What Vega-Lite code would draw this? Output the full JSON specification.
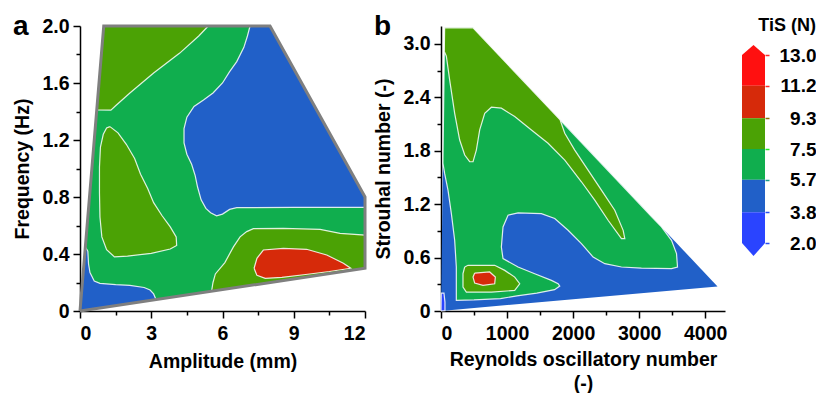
{
  "$schema": "https://vega.github.io/schema/vega-lite/v6.json",
  "padding": {"left": 12, "top": 13, "right": 2, "bottom": 0},
  "autosize": {"type": "pad"},
  "config": {
    "view": {"stroke": null},
    "font": "Liberation Sans",
    "axis": {"grid": false, "zindex": 1, "domainColor": "black", "domainWidth": 1.5, "tickColor": "black", "tickWidth": 1.5, "labelColor": "black", "titleColor": "black", "labelFontSize": 19.5, "titleFontSize": 19.5, "labelFontWeight": "bold", "titleFontWeight": "bold", "labelPadding": 4, "labelFont": "Liberation Sans", "titleFont": "Liberation Sans"},
    "axisX": {"labelPadding": 6, "titlePadding": 8},
    "title": {"font": "Liberation Sans", "fontWeight": "bold", "color": "black"}
  },
  "datasets": {
    "polyA": [
      {"poly":"dom","level":"5.7-7.5","i":0,"x":0,"y":0},
      {"poly":"dom","level":"5.7-7.5","i":1,"x":1,"y":2},
      {"poly":"dom","level":"5.7-7.5","i":2,"x":8,"y":2},
      {"poly":"dom","level":"5.7-7.5","i":3,"x":12,"y":0.8},
      {"poly":"dom","level":"5.7-7.5","i":4,"x":12,"y":0.3},
      {"poly":"dom","level":"5.7-7.5","i":5,"x":0,"y":0},

      {"poly":"bTR","level":"3.8-5.7","i":0,"x":7.16,"y":2},
      {"poly":"bTR","level":"3.8-5.7","i":1,"x":8,"y":2},
      {"poly":"bTR","level":"3.8-5.7","i":2,"x":12,"y":0.8},
      {"poly":"bTR","level":"3.8-5.7","i":3,"x":12,"y":0.727},
      {"poly":"bTR","level":"3.8-5.7","i":4,"x":9,"y":0.727},
      {"poly":"bTR","level":"3.8-5.7","i":5,"x":6.6,"y":0.725},
      {"poly":"bTR","level":"3.8-5.7","i":6,"x":6.3,"y":0.713},
      {"poly":"bTR","level":"3.8-5.7","i":7,"x":6.0,"y":0.68},
      {"poly":"bTR","level":"3.8-5.7","i":8,"x":5.75,"y":0.668},
      {"poly":"bTR","level":"3.8-5.7","i":9,"x":5.5,"y":0.69},
      {"poly":"bTR","level":"3.8-5.7","i":10,"x":5.3,"y":0.72},
      {"poly":"bTR","level":"3.8-5.7","i":11,"x":5.1,"y":0.78},
      {"poly":"bTR","level":"3.8-5.7","i":12,"x":4.95,"y":0.87},
      {"poly":"bTR","level":"3.8-5.7","i":13,"x":4.85,"y":0.95},
      {"poly":"bTR","level":"3.8-5.7","i":14,"x":4.7,"y":1.03},
      {"poly":"bTR","level":"3.8-5.7","i":15,"x":4.5,"y":1.1},
      {"poly":"bTR","level":"3.8-5.7","i":16,"x":4.38,"y":1.18},
      {"poly":"bTR","level":"3.8-5.7","i":17,"x":4.38,"y":1.28},
      {"poly":"bTR","level":"3.8-5.7","i":18,"x":4.5,"y":1.36},
      {"poly":"bTR","level":"3.8-5.7","i":19,"x":4.8,"y":1.435},
      {"poly":"bTR","level":"3.8-5.7","i":20,"x":5.2,"y":1.48},
      {"poly":"bTR","level":"3.8-5.7","i":21,"x":5.6,"y":1.53},
      {"poly":"bTR","level":"3.8-5.7","i":22,"x":6.0,"y":1.6},
      {"poly":"bTR","level":"3.8-5.7","i":23,"x":6.3,"y":1.68},
      {"poly":"bTR","level":"3.8-5.7","i":24,"x":6.6,"y":1.75},
      {"poly":"bTR","level":"3.8-5.7","i":25,"x":6.9,"y":1.85},
      {"poly":"bTR","level":"3.8-5.7","i":26,"x":7.05,"y":1.93},
      {"poly":"bTR","level":"3.8-5.7","i":27,"x":7.16,"y":2},

      {"poly":"bBL","level":"3.8-5.7","i":0,"x":0,"y":0},
      {"poly":"bBL","level":"3.8-5.7","i":1,"x":0.225,"y":0.45},
      {"poly":"bBL","level":"3.8-5.7","i":2,"x":0.33,"y":0.42},
      {"poly":"bBL","level":"3.8-5.7","i":3,"x":0.36,"y":0.33},
      {"poly":"bBL","level":"3.8-5.7","i":4,"x":0.42,"y":0.27},
      {"poly":"bBL","level":"3.8-5.7","i":5,"x":0.6,"y":0.21},
      {"poly":"bBL","level":"3.8-5.7","i":6,"x":0.84,"y":0.194},
      {"poly":"bBL","level":"3.8-5.7","i":7,"x":1.5,"y":0.185},
      {"poly":"bBL","level":"3.8-5.7","i":8,"x":2.1,"y":0.18},
      {"poly":"bBL","level":"3.8-5.7","i":9,"x":2.7,"y":0.165},
      {"poly":"bBL","level":"3.8-5.7","i":10,"x":2.95,"y":0.147},
      {"poly":"bBL","level":"3.8-5.7","i":11,"x":3.1,"y":0.12},
      {"poly":"bBL","level":"3.8-5.7","i":12,"x":3.2,"y":0.08},
      {"poly":"bBL","level":"3.8-5.7","i":13,"x":0,"y":0},

      {"poly":"oTL","level":"7.5-9.3","i":0,"x":1,"y":2},
      {"poly":"oTL","level":"7.5-9.3","i":1,"x":5.4,"y":2},
      {"poly":"oTL","level":"7.5-9.3","i":2,"x":5.0,"y":1.93},
      {"poly":"oTL","level":"7.5-9.3","i":3,"x":4.2,"y":1.81},
      {"poly":"oTL","level":"7.5-9.3","i":4,"x":3.1,"y":1.67},
      {"poly":"oTL","level":"7.5-9.3","i":5,"x":2.1,"y":1.53},
      {"poly":"oTL","level":"7.5-9.3","i":6,"x":1.5,"y":1.44},
      {"poly":"oTL","level":"7.5-9.3","i":7,"x":1.3,"y":1.41},
      {"poly":"oTL","level":"7.5-9.3","i":8,"x":0.706,"y":1.411},
      {"poly":"oTL","level":"7.5-9.3","i":9,"x":1,"y":2},

      {"poly":"oL","level":"7.5-9.3","i":0,"x":1.26,"y":1.294},
      {"poly":"oL","level":"7.5-9.3","i":1,"x":1.6,"y":1.25},
      {"poly":"oL","level":"7.5-9.3","i":2,"x":1.95,"y":1.17},
      {"poly":"oL","level":"7.5-9.3","i":3,"x":2.3,"y":1.07},
      {"poly":"oL","level":"7.5-9.3","i":4,"x":2.55,"y":0.96},
      {"poly":"oL","level":"7.5-9.3","i":5,"x":2.85,"y":0.86},
      {"poly":"oL","level":"7.5-9.3","i":6,"x":3.1,"y":0.76},
      {"poly":"oL","level":"7.5-9.3","i":7,"x":3.45,"y":0.67},
      {"poly":"oL","level":"7.5-9.3","i":8,"x":3.8,"y":0.59},
      {"poly":"oL","level":"7.5-9.3","i":9,"x":4.05,"y":0.52},
      {"poly":"oL","level":"7.5-9.3","i":10,"x":4.07,"y":0.46},
      {"poly":"oL","level":"7.5-9.3","i":11,"x":3.8,"y":0.435},
      {"poly":"oL","level":"7.5-9.3","i":12,"x":3.0,"y":0.405},
      {"poly":"oL","level":"7.5-9.3","i":13,"x":2.0,"y":0.385},
      {"poly":"oL","level":"7.5-9.3","i":14,"x":1.45,"y":0.38},
      {"poly":"oL","level":"7.5-9.3","i":15,"x":1.12,"y":0.43},
      {"poly":"oL","level":"7.5-9.3","i":16,"x":0.92,"y":0.52},
      {"poly":"oL","level":"7.5-9.3","i":17,"x":0.84,"y":0.66},
      {"poly":"oL","level":"7.5-9.3","i":18,"x":0.82,"y":0.83},
      {"poly":"oL","level":"7.5-9.3","i":19,"x":0.82,"y":1.01},
      {"poly":"oL","level":"7.5-9.3","i":20,"x":0.86,"y":1.15},
      {"poly":"oL","level":"7.5-9.3","i":21,"x":0.98,"y":1.24},
      {"poly":"oL","level":"7.5-9.3","i":22,"x":1.12,"y":1.285},
      {"poly":"oL","level":"7.5-9.3","i":23,"x":1.26,"y":1.294},

      {"poly":"oBR","level":"7.5-9.3","i":0,"x":5.54,"y":0.1385},
      {"poly":"oBR","level":"7.5-9.3","i":1,"x":5.6,"y":0.2},
      {"poly":"oBR","level":"7.5-9.3","i":2,"x":5.7,"y":0.26},
      {"poly":"oBR","level":"7.5-9.3","i":3,"x":6.1,"y":0.34},
      {"poly":"oBR","level":"7.5-9.3","i":4,"x":6.46,"y":0.45},
      {"poly":"oBR","level":"7.5-9.3","i":5,"x":6.74,"y":0.52},
      {"poly":"oBR","level":"7.5-9.3","i":6,"x":7.02,"y":0.557},
      {"poly":"oBR","level":"7.5-9.3","i":7,"x":7.3,"y":0.578},
      {"poly":"oBR","level":"7.5-9.3","i":8,"x":8.56,"y":0.58},
      {"poly":"oBR","level":"7.5-9.3","i":9,"x":10.11,"y":0.573},
      {"poly":"oBR","level":"7.5-9.3","i":10,"x":10.95,"y":0.545},
      {"poly":"oBR","level":"7.5-9.3","i":11,"x":12,"y":0.533},
      {"poly":"oBR","level":"7.5-9.3","i":12,"x":12,"y":0.3},
      {"poly":"oBR","level":"7.5-9.3","i":13,"x":5.54,"y":0.1385},

      {"poly":"rBR","level":"9.3-11.2","i":0,"x":7.33,"y":0.3},
      {"poly":"rBR","level":"9.3-11.2","i":1,"x":7.45,"y":0.37},
      {"poly":"rBR","level":"9.3-11.2","i":2,"x":7.72,"y":0.428},
      {"poly":"rBR","level":"9.3-11.2","i":3,"x":8.56,"y":0.44},
      {"poly":"rBR","level":"9.3-11.2","i":4,"x":9.54,"y":0.433},
      {"poly":"rBR","level":"9.3-11.2","i":5,"x":10.39,"y":0.393},
      {"poly":"rBR","level":"9.3-11.2","i":6,"x":11.09,"y":0.335},
      {"poly":"rBR","level":"9.3-11.2","i":7,"x":11.4,"y":0.3},
      {"poly":"rBR","level":"9.3-11.2","i":8,"x":10.5,"y":0.277},
      {"poly":"rBR","level":"9.3-11.2","i":9,"x":9.5,"y":0.256},
      {"poly":"rBR","level":"9.3-11.2","i":10,"x":8.5,"y":0.236},
      {"poly":"rBR","level":"9.3-11.2","i":11,"x":7.8,"y":0.229},
      {"poly":"rBR","level":"9.3-11.2","i":12,"x":7.45,"y":0.25},
      {"poly":"rBR","level":"9.3-11.2","i":13,"x":7.33,"y":0.3}
    ],
    "polyB": [
      {"poly":"dom","level":"3.8-5.7","i":0,"x":0,"y":0},
      {"poly":"dom","level":"3.8-5.7","i":1,"x":55,"y":3.18},
      {"poly":"dom","level":"3.8-5.7","i":2,"x":485,"y":3.18},
      {"poly":"dom","level":"3.8-5.7","i":3,"x":4187,"y":0.276},
      {"poly":"dom","level":"3.8-5.7","i":4,"x":0,"y":0},

      {"poly":"g","level":"5.7-7.5","i":0,"x":29,"y":1.66},
      {"poly":"g","level":"5.7-7.5","i":1,"x":55,"y":3.18},
      {"poly":"g","level":"5.7-7.5","i":2,"x":485,"y":3.18},
      {"poly":"g","level":"5.7-7.5","i":3,"x":3191,"y":1.057},
      {"poly":"g","level":"5.7-7.5","i":4,"x":3338,"y":0.944},
      {"poly":"g","level":"5.7-7.5","i":5,"x":3490,"y":0.794},
      {"poly":"g","level":"5.7-7.5","i":6,"x":3566,"y":0.644},
      {"poly":"g","level":"5.7-7.5","i":7,"x":3581,"y":0.494},
      {"poly":"g","level":"5.7-7.5","i":8,"x":3490,"y":0.475},
      {"poly":"g","level":"5.7-7.5","i":9,"x":3035,"y":0.482},
      {"poly":"g","level":"5.7-7.5","i":10,"x":2732,"y":0.494},
      {"poly":"g","level":"5.7-7.5","i":11,"x":2480,"y":0.531},
      {"poly":"g","level":"5.7-7.5","i":12,"x":2303,"y":0.606},
      {"poly":"g","level":"5.7-7.5","i":13,"x":2126,"y":0.756},
      {"poly":"g","level":"5.7-7.5","i":14,"x":1924,"y":0.906},
      {"poly":"g","level":"5.7-7.5","i":15,"x":1722,"y":1.038},
      {"poly":"g","level":"5.7-7.5","i":16,"x":1520,"y":1.094},
      {"poly":"g","level":"5.7-7.5","i":17,"x":1167,"y":1.102},
      {"poly":"g","level":"5.7-7.5","i":18,"x":1015,"y":1.076},
      {"poly":"g","level":"5.7-7.5","i":19,"x":939,"y":0.944},
      {"poly":"g","level":"5.7-7.5","i":20,"x":914,"y":0.719},
      {"poly":"g","level":"5.7-7.5","i":21,"x":939,"y":0.588},
      {"poly":"g","level":"5.7-7.5","i":22,"x":1167,"y":0.494},
      {"poly":"g","level":"5.7-7.5","i":23,"x":1419,"y":0.419},
      {"poly":"g","level":"5.7-7.5","i":24,"x":1672,"y":0.344},
      {"poly":"g","level":"5.7-7.5","i":25,"x":1773,"y":0.306},
      {"poly":"g","level":"5.7-7.5","i":26,"x":1798,"y":0.28},
      {"poly":"g","level":"5.7-7.5","i":27,"x":1720,"y":0.24},
      {"poly":"g","level":"5.7-7.5","i":28,"x":1450,"y":0.2},
      {"poly":"g","level":"5.7-7.5","i":29,"x":1150,"y":0.17},
      {"poly":"g","level":"5.7-7.5","i":30,"x":900,"y":0.14},
      {"poly":"g","level":"5.7-7.5","i":31,"x":500,"y":0.125},
      {"poly":"g","level":"5.7-7.5","i":32,"x":232,"y":0.12},
      {"poly":"g","level":"5.7-7.5","i":33,"x":232,"y":0.494},
      {"poly":"g","level":"5.7-7.5","i":34,"x":207,"y":0.794},
      {"poly":"g","level":"5.7-7.5","i":35,"x":157,"y":1.094},
      {"poly":"g","level":"5.7-7.5","i":36,"x":106,"y":1.357},
      {"poly":"g","level":"5.7-7.5","i":37,"x":55,"y":1.545},
      {"poly":"g","level":"5.7-7.5","i":38,"x":29,"y":1.66},

      {"poly":"o1","level":"7.5-9.3","i":0,"x":50,"y":2.915},
      {"poly":"o1","level":"7.5-9.3","i":1,"x":55,"y":3.18},
      {"poly":"o1","level":"7.5-9.3","i":2,"x":485,"y":3.18},
      {"poly":"o1","level":"7.5-9.3","i":3,"x":1804,"y":2.145},
      {"poly":"o1","level":"7.5-9.3","i":4,"x":1874,"y":1.995},
      {"poly":"o1","level":"7.5-9.3","i":5,"x":2025,"y":1.807},
      {"poly":"o1","level":"7.5-9.3","i":6,"x":2227,"y":1.582},
      {"poly":"o1","level":"7.5-9.3","i":7,"x":2429,"y":1.357},
      {"poly":"o1","level":"7.5-9.3","i":8,"x":2631,"y":1.132},
      {"poly":"o1","level":"7.5-9.3","i":9,"x":2758,"y":0.906},
      {"poly":"o1","level":"7.5-9.3","i":10,"x":2783,"y":0.813},
      {"poly":"o1","level":"7.5-9.3","i":11,"x":2732,"y":0.813},
      {"poly":"o1","level":"7.5-9.3","i":12,"x":2530,"y":1.019},
      {"poly":"o1","level":"7.5-9.3","i":13,"x":2328,"y":1.245},
      {"poly":"o1","level":"7.5-9.3","i":14,"x":2126,"y":1.451},
      {"poly":"o1","level":"7.5-9.3","i":15,"x":1874,"y":1.695},
      {"poly":"o1","level":"7.5-9.3","i":16,"x":1621,"y":1.883},
      {"poly":"o1","level":"7.5-9.3","i":17,"x":1369,"y":2.033},
      {"poly":"o1","level":"7.5-9.3","i":18,"x":1116,"y":2.183},
      {"poly":"o1","level":"7.5-9.3","i":19,"x":914,"y":2.277},
      {"poly":"o1","level":"7.5-9.3","i":20,"x":763,"y":2.288},
      {"poly":"o1","level":"7.5-9.3","i":21,"x":662,"y":2.22},
      {"poly":"o1","level":"7.5-9.3","i":22,"x":586,"y":2.033},
      {"poly":"o1","level":"7.5-9.3","i":23,"x":535,"y":1.807},
      {"poly":"o1","level":"7.5-9.3","i":24,"x":485,"y":1.676},
      {"poly":"o1","level":"7.5-9.3","i":25,"x":434,"y":1.676},
      {"poly":"o1","level":"7.5-9.3","i":26,"x":359,"y":1.751},
      {"poly":"o1","level":"7.5-9.3","i":27,"x":283,"y":1.92},
      {"poly":"o1","level":"7.5-9.3","i":28,"x":207,"y":2.22},
      {"poly":"o1","level":"7.5-9.3","i":29,"x":131,"y":2.596},
      {"poly":"o1","level":"7.5-9.3","i":30,"x":81,"y":2.86},
      {"poly":"o1","level":"7.5-9.3","i":31,"x":50,"y":2.915},

      {"poly":"o2","level":"7.5-9.3","i":0,"x":359,"y":0.494},
      {"poly":"o2","level":"7.5-9.3","i":1,"x":409,"y":0.513},
      {"poly":"o2","level":"7.5-9.3","i":2,"x":813,"y":0.513},
      {"poly":"o2","level":"7.5-9.3","i":3,"x":965,"y":0.456},
      {"poly":"o2","level":"7.5-9.3","i":4,"x":1116,"y":0.381},
      {"poly":"o2","level":"7.5-9.3","i":5,"x":1192,"y":0.306},
      {"poly":"o2","level":"7.5-9.3","i":6,"x":1116,"y":0.231},
      {"poly":"o2","level":"7.5-9.3","i":7,"x":763,"y":0.212},
      {"poly":"o2","level":"7.5-9.3","i":8,"x":384,"y":0.212},
      {"poly":"o2","level":"7.5-9.3","i":9,"x":333,"y":0.268},
      {"poly":"o2","level":"7.5-9.3","i":10,"x":333,"y":0.419},
      {"poly":"o2","level":"7.5-9.3","i":11,"x":359,"y":0.494},

      {"poly":"r","level":"9.3-11.2","i":0,"x":510,"y":0.426},
      {"poly":"r","level":"9.3-11.2","i":1,"x":737,"y":0.438},
      {"poly":"r","level":"9.3-11.2","i":2,"x":823,"y":0.381},
      {"poly":"r","level":"9.3-11.2","i":3,"x":813,"y":0.306},
      {"poly":"r","level":"9.3-11.2","i":4,"x":636,"y":0.287},
      {"poly":"r","level":"9.3-11.2","i":5,"x":510,"y":0.313},
      {"poly":"r","level":"9.3-11.2","i":6,"x":485,"y":0.381},
      {"poly":"r","level":"9.3-11.2","i":7,"x":510,"y":0.426},

      {"poly":"bb","level":"2.0-3.8","i":0,"x":0,"y":0},
      {"poly":"bb","level":"2.0-3.8","i":1,"x":4,"y":0.2},
      {"poly":"bb","level":"2.0-3.8","i":2,"x":45,"y":0.2},
      {"poly":"bb","level":"2.0-3.8","i":3,"x":60,"y":0.1},
      {"poly":"bb","level":"2.0-3.8","i":4,"x":60,"y":0.004},
      {"poly":"bb","level":"2.0-3.8","i":5,"x":0,"y":0}
    ],
    "bands": [
      {"lo":11.2,"hi":13.0,"level":"11.2-13.0"},
      {"lo":9.3,"hi":11.2,"level":"9.3-11.2"},
      {"lo":7.5,"hi":9.3,"level":"7.5-9.3"},
      {"lo":5.7,"hi":7.5,"level":"5.7-7.5"},
      {"lo":3.8,"hi":5.7,"level":"3.8-5.7"},
      {"lo":2.0,"hi":3.8,"level":"2.0-3.8"}
    ],
    "arrows": [
      {"poly":"up","level":"11.2-13.0","i":0,"bx":0,"v":13.0},
      {"poly":"up","level":"11.2-13.0","i":1,"bx":0.5,"v":13.585},
      {"poly":"up","level":"11.2-13.0","i":2,"bx":1,"v":13.0},
      {"poly":"dn","level":"2.0-3.8","i":0,"bx":0,"v":2.0},
      {"poly":"dn","level":"2.0-3.8","i":1,"bx":0.5,"v":1.24},
      {"poly":"dn","level":"2.0-3.8","i":2,"bx":1,"v":2.0}
    ]
  },
  "spacing": 2,
  "hconcat": [
    {
      "width": 285,
      "height": 285,
      "title": {"text": "a", "anchor": "start", "frame": "bounds", "fontSize": 28, "offset": -47, "baseline": "alphabetic"},
      "data": {"name": "polyA"},
      "encoding": {
        "x": {"field": "x", "type": "quantitative", "scale": {"domain": [0, 12], "nice": false, "zero": false},
          "axis": {"title": "Amplitude (mm)", "titlePadding": 10, "values": [0, 1.5, 3, 4.5, 6, 7.5, 9, 10.5, 12], "labelExpr": "datum.value % 3 == 0 ? datum.label : ''", "tickSize": {"condition": {"test": "datum.value % 3 == 0", "value": 7}, "value": 4}}},
        "y": {"field": "y", "type": "quantitative", "scale": {"domain": [0, 2], "nice": false, "zero": false},
          "axis": {"title": "Frequency (Hz)", "values": [0, 0.2, 0.4, 0.6, 0.8, 1, 1.2, 1.4, 1.6, 1.8, 2], "format": ".1f", "labelExpr": "datum.value == 0 ? '0' : (round(datum.value * 10) % 4 == 0 ? datum.label : '')", "tickSize": {"condition": {"test": "round(datum.value * 10) % 4 == 0", "value": 7}, "value": 4}, "titlePadding": 9}},
        "order": {"field": "i", "type": "quantitative"},
        "detail": {"field": "poly", "type": "nominal"}
      },
      "layer": [
        {"transform": [{"filter": "datum.poly == 'dom'"}], "mark": {"type": "line", "filled": true, "strokeWidth": 0},
          "encoding": {"color": {"field": "level", "type": "nominal", "legend": null, "scale": {"domain": ["2.0-3.8", "3.8-5.7", "5.7-7.5", "7.5-9.3", "9.3-11.2", "11.2-13.0"], "range": ["#2a44ff", "#2160c8", "#10ae4e", "#4ba205", "#d62a0a", "#ff1010"]}}}},
        {"transform": [{"filter": "datum.poly != 'dom' && datum.level != '9.3-11.2'"}], "mark": {"type": "line", "filled": true, "stroke": "white", "strokeWidth": 1.2, "strokeOpacity": 0.85},
          "encoding": {"color": {"field": "level", "type": "nominal", "legend": null, "scale": {"domain": ["2.0-3.8", "3.8-5.7", "5.7-7.5", "7.5-9.3", "9.3-11.2", "11.2-13.0"], "range": ["#2a44ff", "#2160c8", "#10ae4e", "#4ba205", "#d62a0a", "#ff1010"]}}}},
        {"transform": [{"filter": "datum.level == '9.3-11.2'"}], "mark": {"type": "line", "filled": true, "stroke": "white", "strokeWidth": 1.2, "strokeOpacity": 0.85},
          "encoding": {"color": {"field": "level", "type": "nominal", "legend": null, "scale": {"domain": ["2.0-3.8", "3.8-5.7", "5.7-7.5", "7.5-9.3", "9.3-11.2", "11.2-13.0"], "range": ["#2a44ff", "#2160c8", "#10ae4e", "#4ba205", "#d62a0a", "#ff1010"]}}}},
        {"transform": [{"filter": "datum.poly == 'dom'"}], "mark": {"type": "line", "color": "#7f7f7f", "strokeWidth": 3, "strokeJoin": "miter"}}
      ]
    },
    {
      "spacing": 15,
      "hconcat": [
        {
          "width": 284,
          "height": 285,
          "title": {"text": "b", "anchor": "start", "frame": "bounds", "fontSize": 28, "offset": -38, "baseline": "alphabetic"},
          "data": {"name": "polyB"},
          "encoding": {
            "x": {"field": "x", "type": "quantitative", "scale": {"domain": [0, 4300], "nice": false, "zero": false},
              "axis": {"title": ["Reynolds oscillatory number", "(-)"], "titleLineHeight": 24, "format": "d", "values": [0, 500, 1000, 1500, 2000, 2500, 3000, 3500, 4000], "labelExpr": "datum.value % 1000 == 0 ? datum.label : ''", "tickSize": {"condition": {"test": "datum.value % 1000 == 0", "value": 7}, "value": 4}}},
            "y": {"field": "y", "type": "quantitative", "scale": {"domain": [0, 3.2], "nice": false, "zero": false},
              "axis": {"title": "Strouhal number (-)", "values": [0, 0.3, 0.6, 0.9, 1.2, 1.5, 1.8, 2.1, 2.4, 2.7, 3.0], "format": ".1f", "labelExpr": "datum.value == 0 ? '0' : (round(datum.value * 10) % 6 == 0 ? datum.label : '')", "tickSize": {"condition": {"test": "round(datum.value * 10) % 6 == 0", "value": 7}, "value": 4}, "titlePadding": 9}},
            "order": {"field": "i", "type": "quantitative"},
            "detail": {"field": "poly", "type": "nominal"}
          },
          "layer": [
            {"transform": [{"filter": "datum.poly == 'dom'"}], "mark": {"type": "line", "filled": true, "strokeWidth": 0},
              "encoding": {"color": {"field": "level", "type": "nominal", "legend": null, "scale": {"domain": ["2.0-3.8", "3.8-5.7", "5.7-7.5", "7.5-9.3", "9.3-11.2", "11.2-13.0"], "range": ["#2a44ff", "#2160c8", "#10ae4e", "#4ba205", "#d62a0a", "#ff1010"]}}}},
            {"transform": [{"filter": "datum.poly != 'dom' && datum.level == '5.7-7.5'"}], "mark": {"type": "line", "filled": true, "stroke": "white", "strokeWidth": 1.2, "strokeOpacity": 0.85},
              "encoding": {"color": {"field": "level", "type": "nominal", "legend": null, "scale": {"domain": ["2.0-3.8", "3.8-5.7", "5.7-7.5", "7.5-9.3", "9.3-11.2", "11.2-13.0"], "range": ["#2a44ff", "#2160c8", "#10ae4e", "#4ba205", "#d62a0a", "#ff1010"]}}}},
            {"transform": [{"filter": "datum.level == '7.5-9.3'"}], "mark": {"type": "line", "filled": true, "stroke": "white", "strokeWidth": 1.2, "strokeOpacity": 0.85},
              "encoding": {"color": {"field": "level", "type": "nominal", "legend": null, "scale": {"domain": ["2.0-3.8", "3.8-5.7", "5.7-7.5", "7.5-9.3", "9.3-11.2", "11.2-13.0"], "range": ["#2a44ff", "#2160c8", "#10ae4e", "#4ba205", "#d62a0a", "#ff1010"]}}}},
            {"transform": [{"filter": "datum.level == '9.3-11.2' || datum.level == '2.0-3.8'"}], "mark": {"type": "line", "filled": true, "stroke": "white", "strokeWidth": 1.2, "strokeOpacity": 0.85},
              "encoding": {"color": {"field": "level", "type": "nominal", "legend": null, "scale": {"domain": ["2.0-3.8", "3.8-5.7", "5.7-7.5", "7.5-9.3", "9.3-11.2", "11.2-13.0"], "range": ["#2a44ff", "#2160c8", "#10ae4e", "#4ba205", "#d62a0a", "#ff1010"]}}}}
          ]
        },
        {
          "width": 23,
          "height": 285,
          "title": {"text": "TiS (N)", "anchor": "end", "frame": "bounds", "fontSize": 18, "offset": -9},
          "layer": [
            {"data": {"name": "bands"}, "mark": {"type": "rect"},
              "encoding": {
                "x": {"datum": 0, "type": "quantitative", "scale": {"domain": [0, 1], "nice": false, "zero": false}, "axis": null},
                "x2": {"datum": 1},
                "y": {"field": "lo", "type": "quantitative", "scale": {"domain": [-1.978, 14.697], "nice": false, "zero": false},
                  "axis": {"orient": "right", "title": null, "values": [2, 3.8, 5.7, 7.5, 9.3, 11.2, 13], "format": ".1f", "labelOverlap": false, "domain": false, "tickSize": 4, "labelAlign": "right", "labelPadding": 47, "labelFontSize": 19,
                    "tickColor": {"condition": [{"test": "datum.value > 11", "value": "#ff2a2a"}, {"test": "datum.value > 9", "value": "#8a7000"}, {"test": "datum.value > 7", "value": "#22ee22"}, {"test": "datum.value > 5", "value": "#1a9a8a"}], "value": "#2a50f0"}}},
                "y2": {"field": "hi"},
                "color": {"field": "level", "type": "nominal", "legend": null, "scale": {"domain": ["2.0-3.8", "3.8-5.7", "5.7-7.5", "7.5-9.3", "9.3-11.2", "11.2-13.0"], "range": ["#2a44ff", "#2160c8", "#10ae4e", "#4ba205", "#d62a0a", "#ff1010"]}}
              }},
            {"data": {"name": "arrows"}, "mark": {"type": "line", "filled": true, "strokeWidth": 0},
              "encoding": {
                "x": {"field": "bx", "type": "quantitative"},
                "y": {"field": "v", "type": "quantitative"},
                "order": {"field": "i", "type": "quantitative"},
                "detail": {"field": "poly", "type": "nominal"},
                "color": {"field": "level", "type": "nominal", "legend": null, "scale": {"domain": ["2.0-3.8", "3.8-5.7", "5.7-7.5", "7.5-9.3", "9.3-11.2", "11.2-13.0"], "range": ["#2a44ff", "#2160c8", "#10ae4e", "#4ba205", "#d62a0a", "#ff1010"]}}
              }}
          ]
        }
      ]
    }
  ]
}
